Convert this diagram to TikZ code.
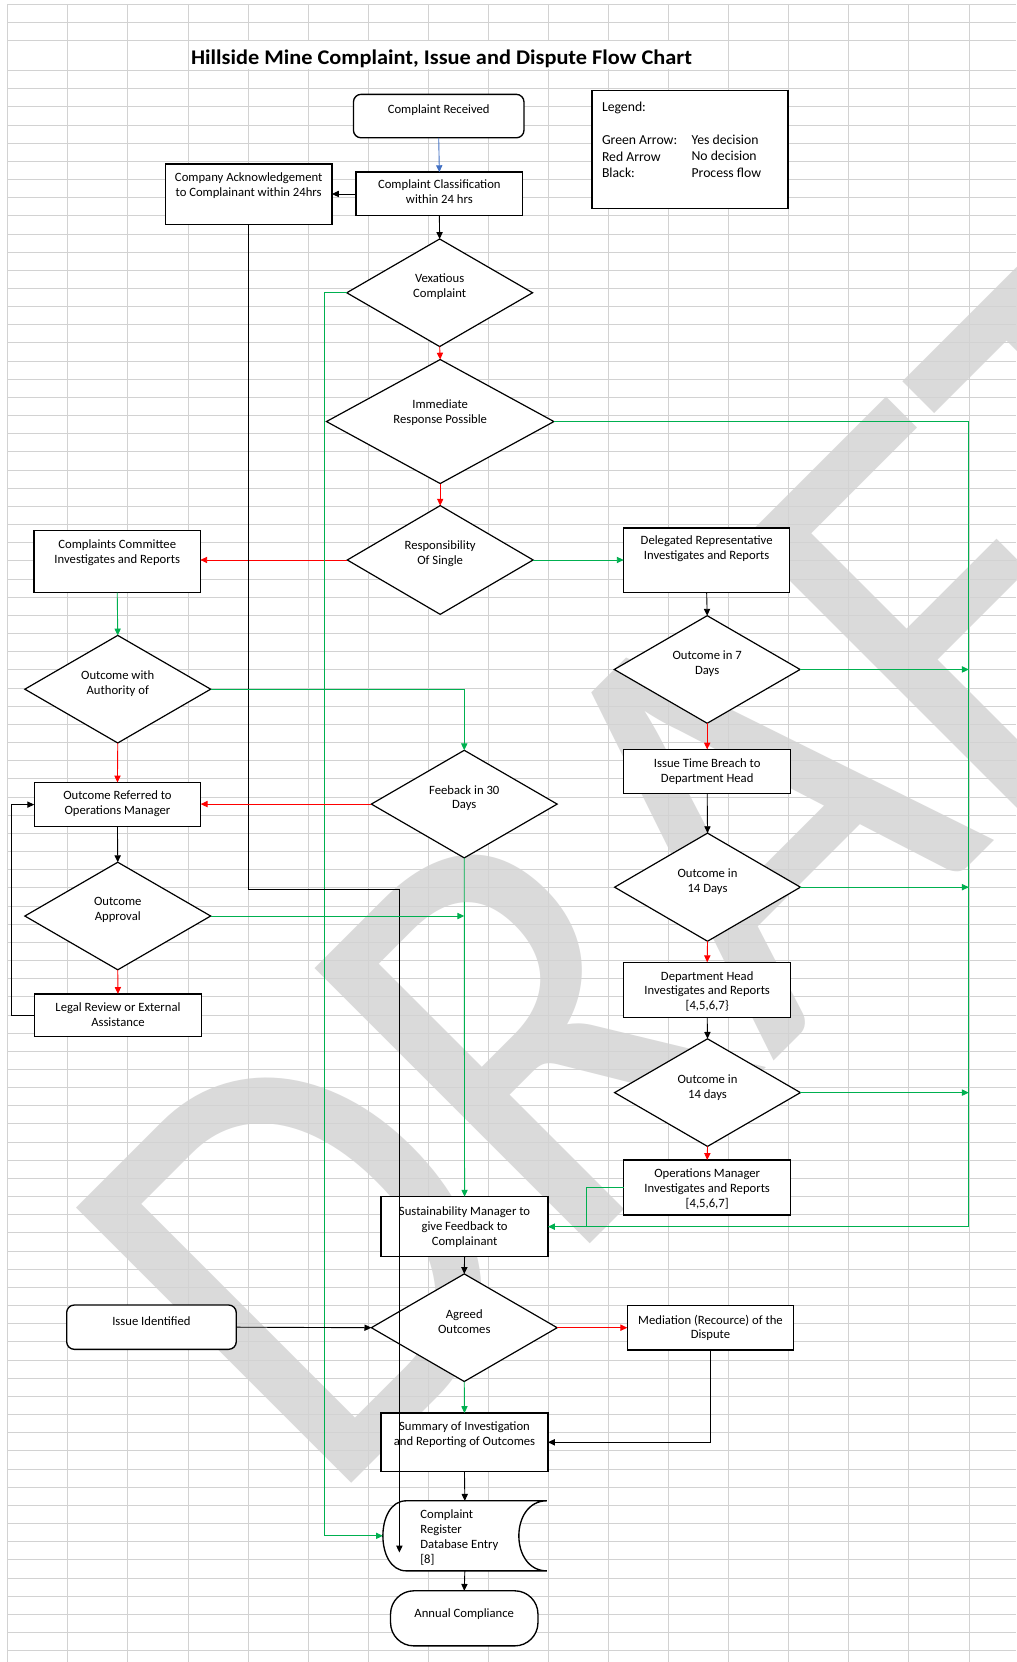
\documentclass[tikz,border=0pt]{standalone}
\usepackage{fontspec}
\setmainfont{Carlito}
\usetikzlibrary{shapes.geometric, arrows.meta, calc}
\newlength{\pxu}
\setlength{\pxu}{0.025cm}
\definecolor{gridc}{RGB}{210,210,210}
\definecolor{wmc}{RGB}{218,218,218}
\definecolor{ygreen}{RGB}{0,176,80}
\definecolor{nred}{RGB}{255,0,0}
\definecolor{pblue}{RGB}{68,114,196}
\begin{document}
\begin{tikzpicture}[x=0.025cm, y=-0.025cm,
  box/.style={draw, line width=0.9pt, fill=white, inner sep=0pt, outer sep=0pt},
  rbox/.style={box, rounded corners=0.18cm},
  dia/.style={draw, diamond, line width=0.8pt, fill=white, inner sep=0pt, outer sep=0pt,
              minimum width=175.3\pxu, minimum height=101.5\pxu},
  txt/.style={inner sep=0pt, align=center, anchor=north, font=\fontsize{8.5}{10}\selectfont},
  lgt/.style={inner sep=0pt, align=left, anchor=north west, font=\fontsize{9.2}{11.1}\selectfont},
  arr/.style={line width=0.6pt, -{Triangle[length=4.6pt,width=4.2pt]}},
  blk/.style={arr, black},
  ga/.style={arr, ygreen},
  ra/.style={arr, nred},
  gl/.style={line width=0.6pt, ygreen},
  gridl/.style={gridc, line width=0.67pt}
]
\useasboundingbox (0,0) rectangle (959,1568);
\fill[white] (0,0) rectangle (959,1568);

% watermark
\begin{scope}
\clip (0,0) rectangle (959,1568);
\begin{scope}[shift={(306.8,1424)}, rotate=45, xscale=0.9]
\node[transform shape, anchor=base west, inner sep=0pt, text=wmc,
      font=\fontsize{407}{407}\selectfont] (wm) at (0,0) {DRAFT};
\end{scope}
\end{scope}

% grid (snapped to output pixels)
\foreach \k in {0,...,16} {
  \pgfmathsetmacro{\gx}{(round(1.05995*(6.9+56.68*\k))+0.5)/1.05995}
  \draw[gridl] (\gx,3.8) -- (\gx,1568);
}
\foreach \yy in {3.8,21.1,37.8} {
  \pgfmathsetmacro{\gy}{(round(1.05995*\yy)+0.5)/1.05995}
  \draw[gridl] (6.9,\gy) -- (959,\gy);
}
\foreach \n in {0,...,87} {
  \pgfmathsetmacro{\gy}{(round(1.05995*(66.1+17.135*\n))+0.5)/1.05995}
  \draw[gridl] (6.9,\gy) -- (959,\gy);
}
\fill[white] (178.2,38.7) rectangle (686.3,65.3);

% title
\begin{scope}[shift={(180,60.4)}, xscale=1.07]
\node[transform shape, anchor=base west, inner sep=0pt, font=\fontsize{14}{16}\selectfont\bfseries] (title)
  at (0,0) {Hillside Mine Complaint, Issue and Dispute Flow Chart};
\end{scope}

% legend
\node[box, minimum width=184.8\pxu, minimum height=111\pxu] (leg) at (650.9,141.1) {};
\node[lgt] (legl) at (567.7,95.8) {Legend:\\[11.1pt]Green Arrow:\\Red Arrow\\Black:};
\node[lgt] (legr) at (652.2,126.6) {Yes decision\\No decision\\Process flow};

% top column
\node[rbox, minimum width=160.9\pxu, minimum height=41\pxu] (cr) at (413.9,109.5) {};
\node[txt] (crt) at ($(cr.north)+(0,9.7)$) {Complaint Received};
\node[box, minimum width=157.3\pxu, minimum height=41.2\pxu] (cls) at (414.5,183) {};
\node[txt] (clst) at ($(cls.north)+(0,7.3)$) {Complaint Classification\\within 24 hrs};
\node[box, minimum width=157.2\pxu, minimum height=56.9\pxu] (ack) at (234.6,183.3) {};
\node[txt] (ackt) at ($(ack.north)+(0,7.9)$) {Company Acknowledgement\\to Complainant within 24hrs};

\node[dia] (vex) at (414.8,276.2) {};
\node[txt] (vext) at ($(vex.center)+(0,-17.8)$) {Vexatious\\Complaint};
\node[dia, minimum width=214.6\pxu, minimum height=117\pxu] (imm) at (415.3,397.7) {};
\node[txt] (immt) at ($(imm.center)+(0,-21)$) {Immediate\\Response Possible};
\node[dia, minimum height=102.6\pxu] (resp) at (415.3,528.3) {};
\node[txt] (respt) at ($(resp.center)+(0,-18.2)$) {Responsibility\\Of Single};

% left column
\node[box, minimum width=156.8\pxu, minimum height=58.8\pxu] (cc) at (110.6,529.7) {};
\node[txt] (cct) at ($(cc.north)+(0,8.3)$) {Complaints Committee\\Investigates and Reports};
\node[dia] (owa) at (111.1,650.2) {};
\node[txt] (owat) at ($(owa.center)+(0,-17.3)$) {Outcome with\\Authority of};
\node[box, minimum width=157.1\pxu, minimum height=41.8\pxu] (orf) at (110.8,759.1) {};
\node[txt] (orft) at ($(orf.north)+(0,7.9)$) {Outcome Referred to\\Operations Manager};
\node[dia] (oap) at (111.1,864.2) {};
\node[txt] (oapt) at ($(oap.center)+(0,-18)$) {Outcome\\Approval};
\node[box, minimum width=157.5\pxu, minimum height=40.3\pxu] (lr) at (111.3,957.8) {};
\node[txt] (lrt) at ($(lr.north)+(0,7.7)$) {Legal Review or External\\Assistance};

% middle column
\node[dia] (fb) at (438,758.6) {};
\node[txt] (fbt) at ($(fb.center)+(0,-18.1)$) {Feeback in 30\\Days};
\node[box, minimum width=157.4\pxu, minimum height=56.7\pxu] (sm) at (438.3,1157.3) {};
\node[txt] (smt) at ($(sm.north)+(0,9)$) {Sustainability Manager to\\give Feedback to\\Complainant};
\node[dia] (ao) at (438,1252.6) {};
\node[txt] (aot) at ($(ao.center)+(0,-17.2)$) {Agreed\\Outcomes};
\node[rbox, minimum width=160\pxu, minimum height=41.8\pxu] (ii) at (142.9,1252.1) {};
\node[txt] (iit) at ($(ii.north)+(0,10.5)$) {Issue Identified};
\node[box, minimum width=157.5\pxu, minimum height=55.1\pxu] (sum) at (438.2,1360.7) {};
\node[txt] (sumt) at ($(sum.north)+(0,8.3)$) {Summary of Investigation\\and Reporting of Outcomes};
\node[inner sep=0pt, outer sep=0pt, minimum width=154.7\pxu, minimum height=66.1\pxu] (reg) at (438.55,1448.95) {};
\draw[line width=0.9pt, fill=white] (383.2,1415.9) -- (515.9,1415.9)
  .. controls (480.7,1415.9) and (480.7,1482) .. (515.9,1482) -- (383.2,1482)
  .. controls (353.9,1482) and (353.9,1415.9) .. (383.2,1415.9) -- cycle;
\node[lgt, font=\fontsize{8.5}{10}\selectfont] (regt) at (396.3,1424.2) {Complaint\\Register\\Database Entry\\{[8]}};
\node[box, rounded corners=0.55cm, minimum width=139.1\pxu, minimum height=52\pxu] (ac) at (438,1526.8) {};
\node[txt] (act) at ($(ac.north)+(0,16.2)$) {Annual Compliance};

% right column
\node[box, minimum width=156.6\pxu, minimum height=61\pxu] (dr) at (666.7,528.6) {};
\node[txt] (drt) at ($(dr.north)+(0,7.3)$) {Delegated Representative\\Investigates and Reports};
\node[dia] (o7) at (667.2,631.6) {};
\node[txt] (o7t) at ($(o7.center)+(0,-17.6)$) {Outcome in 7\\Days};
\node[box, minimum width=157.6\pxu, minimum height=41.5\pxu] (itb) at (667.2,727.8) {};
\node[txt] (itbt) at ($(itb.north)+(0,8.3)$) {Issue Time Breach to\\Department Head};
\node[dia, minimum height=102\pxu] (o14a) at (667.5,837) {};
\node[txt] (o14at) at ($(o14a.center)+(0,-17.9)$) {Outcome in\\14 Days};
\node[box, minimum width=157.6\pxu, minimum height=51.9\pxu] (dh) at (667.2,933.8) {};
\node[txt] (dht) at ($(dh.north)+(0,8.2)$) {Department Head\\Investigates and Reports\\{[4,5,6,7\}}};
\node[dia] (o14b) at (667.5,1030.8) {};
\node[txt] (o14bt) at ($(o14b.center)+(0,-17.2)$) {Outcome in\\14 days};
\node[box, minimum width=157.6\pxu, minimum height=51.9\pxu] (om) at (667.2,1120.3) {};
\node[txt] (omt) at ($(om.north)+(0,8.3)$) {Operations Manager\\Investigates and Reports\\{[4,5,6,7]}};
\node[box, minimum width=157\pxu, minimum height=41.9\pxu] (med) at (670.3,1252.8) {};
\node[txt] (medt) at ($(med.north)+(0,8.3)$) {Mediation (Recource) of the\\Dispute};

% helper coordinates
\coordinate (rx) at (914,0);
\coordinate (omx) at (553.2,0);
\coordinate (lgx) at (306.4,0);
\coordinate (lx) at (10.8,0);
\coordinate (ackb) at (234.6,839.5);
\coordinate (regin) at (376.8,1464.7);

% connectors
\draw[arr, pblue] (cr.south) -- (cls.north);
\draw[blk] (cls.west) -- (cls.west -| ack.east);
\draw[blk] (cls.south) -- (vex.north);
\draw[ra] (vex.south) -- (imm.north);
\draw[ra] (imm.south) -- (resp.north);
\draw[ra] (resp.west) -- (resp.west -| cc.east);
\draw[ga] (resp.east) -- (resp.east -| dr.west);
\draw[blk] (dr.south) -- (o7.north);
\draw[ra] (o7.south) -- (itb.north);
\draw[blk] (itb.south) -- (o14a.north);
\draw[ra] (o14a.south) -- (dh.north);
\draw[blk] (dh.south) -- (o14b.north);
\draw[ra] (o14b.south) -- (om.north);
\draw[ga] (imm.east) -- (imm.east -| rx) -- (rx |- sm.east) -- (sm.east);
\draw[ga] (o7.east) -- (o7.east -| rx);
\draw[ga] (o14a.east) -- (o14a.east -| rx);
\draw[ga] (o14b.east) -- (o14b.east -| rx);
\draw[gl] (om.west) -- (om.west -| omx) -- (omx |- sm.east);
\draw[ga] (vex.west) -- (vex.west -| lgx) -- (lgx |- reg.west) -- (reg.west);
\draw[blk] (ack.south) -- (ack.south |- ackb) -- (regin |- ackb) -- (regin);
\draw[blk] (sm.south) -- (ao.north);
\draw[blk] (ii.east) -- (ao.west);
\draw[ra] (ao.east) -- (ao.east -| med.west);
\draw[blk] (med.south) |- (sum.east);
\draw[ga] (ao.south) -- (sum.north);
\draw[blk] (sum.south) -- (reg.north);
\draw[blk] (reg.south) -- (ac.north);
\draw[ga] (cc.south) -- (owa.north);
\draw[ga] (owa.east) -| (fb.north);
\draw[ra] (owa.south) -- (orf.north);
\draw[ra] (fb.west) -- (fb.west -| orf.east);
\draw[blk] (orf.south) -- (oap.north);
\draw[ga] (oap.east) -- (oap.east -| fb.south);
\draw[ga] (fb.south) -- (sm.north);
\draw[ra] (oap.south) -- (lr.north);
\draw[blk] (lr.west) -- (lr.west -| lx) |- (orf.west);
\end{tikzpicture}
\end{document}
